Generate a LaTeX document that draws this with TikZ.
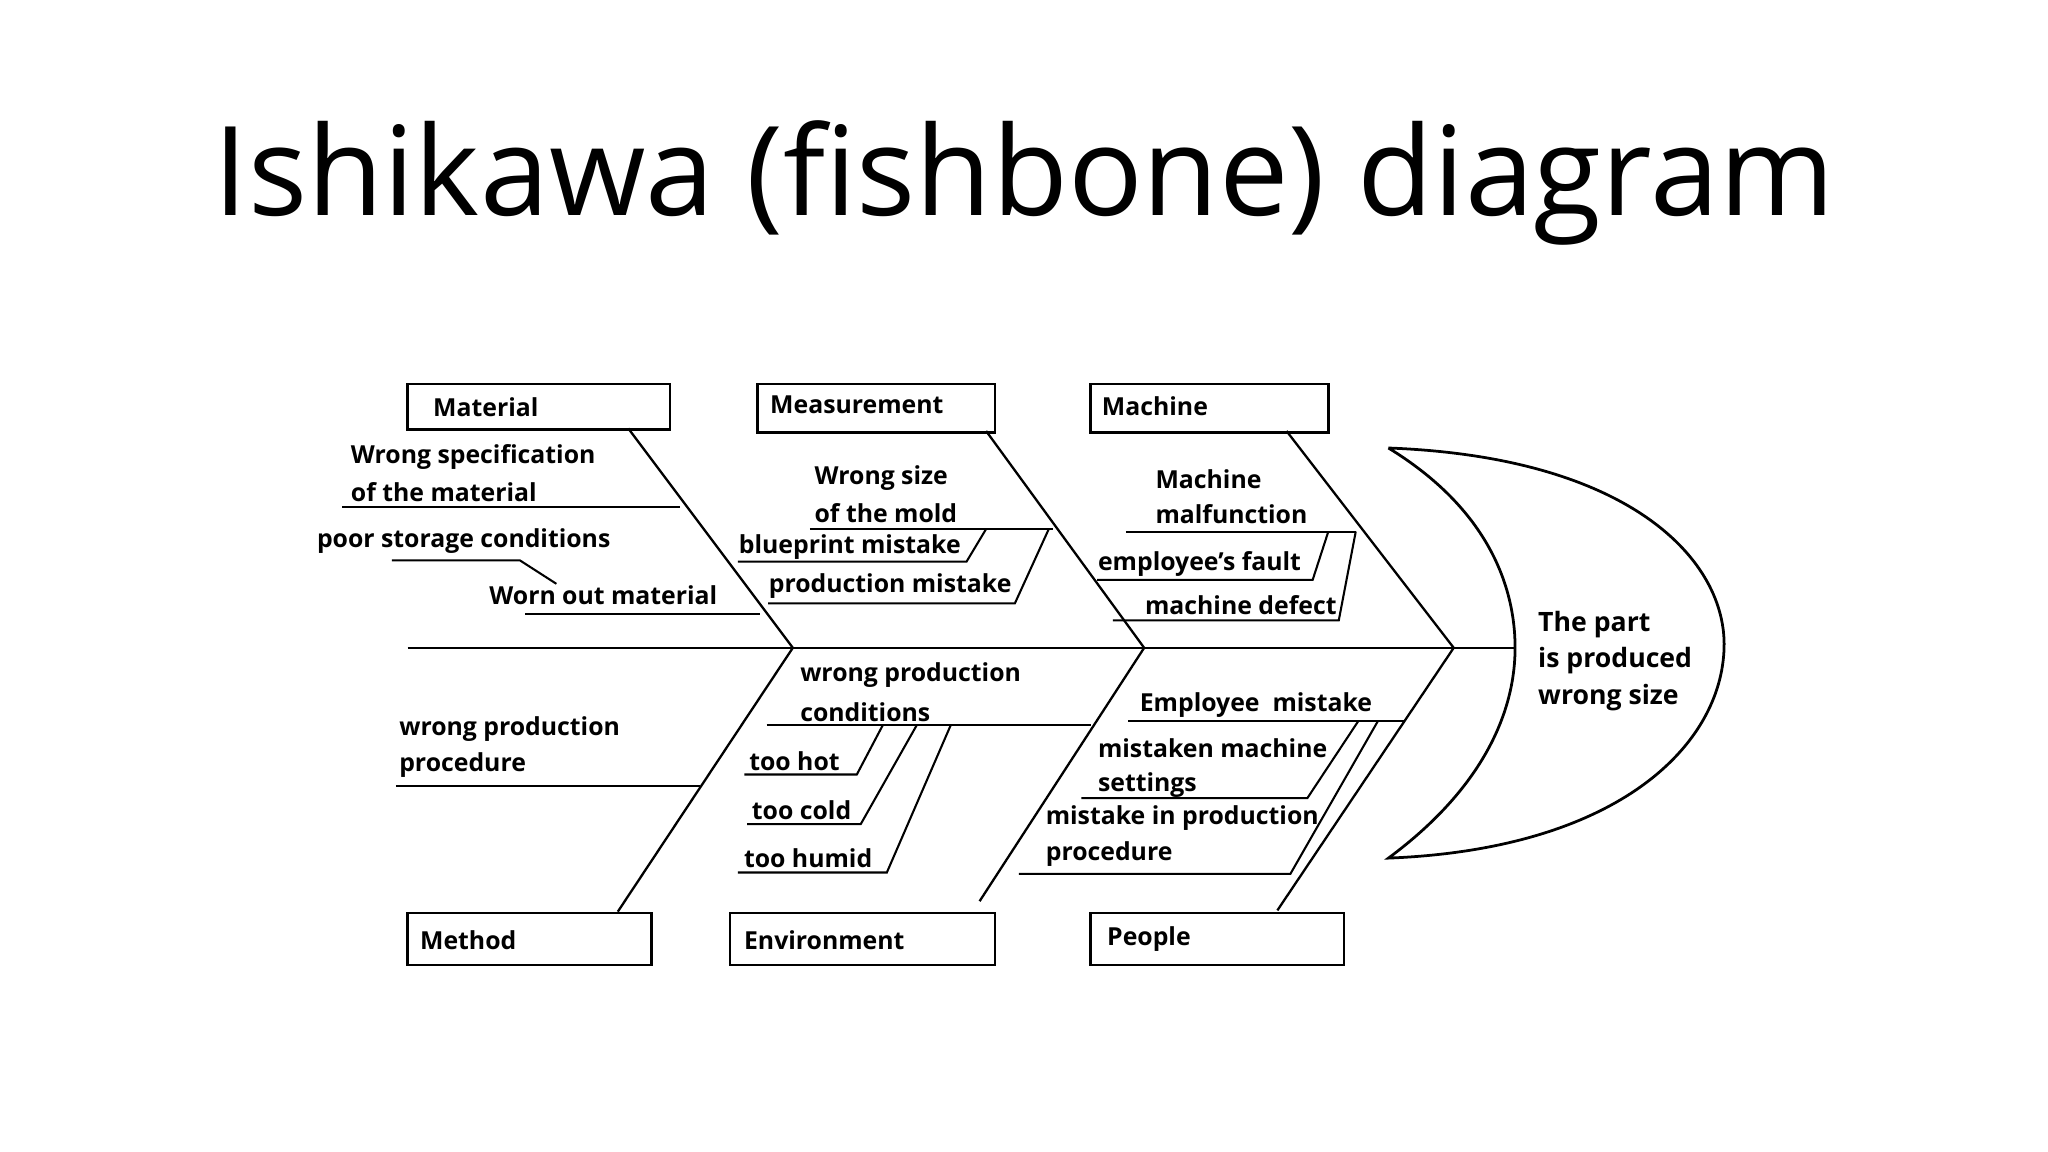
\documentclass[tikz,border=0pt]{standalone}
\usepackage{fontspec}
\setmainfont{Open Sans}
\usetikzlibrary{positioning}
\tikzset{
  bone/.style={black,line width=0.5pt},
  twig/.style={black,line width=0.45pt},
  cat/.style={draw,line width=0.55pt,anchor=north west,minimum height=10.5mm*0.36,inner sep=0pt},
  lbl/.style={anchor=west,inner sep=0pt,font=\fontsize{5.4}{6.6}\selectfont\bfseries,align=left},
}
\begin{document}
\begin{tikzpicture}[x=0.01cm,y=-0.01cm]
\useasboundingbox (0,0) rectangle (1568,882);
\node[font=\fontsize{27}{30}\selectfont] (title) at (784,140) {Ishikawa (fishbone) diagram};

% category boxes
\node[cat,minimum width=201*0.01cm,minimum height=35*0.01cm] (mat) at (311,293) {};
\node[lbl] at (331,312) {Material};
\node[cat,minimum width=182*0.01cm,minimum height=37*0.01cm] (mea) at (579,293) {};
\node[lbl] at (589,310) {Measurement};
\node[cat,minimum width=182*0.01cm,minimum height=37*0.01cm] (mac) at (834,293) {};
\node[lbl] at (843,311) {Machine};
\node[cat,minimum width=187*0.01cm,minimum height=40*0.01cm] (met) at (311,698) {};
\node[lbl] at (321,720) {Method};
\node[cat,minimum width=203*0.01cm,minimum height=40*0.01cm] (env) at (558,698) {};
\node[lbl] at (569,720) {Environment};
\node[cat,minimum width=194*0.01cm,minimum height=40*0.01cm] (peo) at (834,698) {};
\node[lbl] at (847,719) {People};

% spine and head
\coordinate (tail) at (312,496);
\coordinate (j1) at (607,496);
\coordinate (j2) at (876,496);
\coordinate (j3) at (1113,496);
\coordinate (neck) at (1160,496);
\draw[bone] (tail) -- (neck);
\draw[bone,line width=0.6pt] (1063,343) .. controls (1250,350) and (1322,430) .. (1320,496)
  .. controls (1318,570) and (1240,650) .. (1063,657)
  .. controls (1140,600) and (1160,540) .. (neck)
  .. controls (1160,450) and (1140,390) .. (1063,343);
\node[lbl,align=left,font=\fontsize{5.8}{8}\selectfont\bfseries] (eff) at (1177,506) {The part\\is produced\\wrong size};

% main bones
\draw[bone] (481,328) -- (j1);
\draw[bone] (755,330) -- (j2);
\draw[bone] (985,330) -- (j3);
\draw[bone] (473,698) -- (j1);
\draw[bone] (750,690) -- (j2);
\draw[bone] (978,697) -- (j3);

% Material
\node[lbl] at (268,350) {Wrong specification};
\node[lbl] at (268,377) {of the material};
\draw[twig] (262,388) -- (521,388);
\node[lbl] at (242,414) {poor storage conditions};
\draw[twig] (300,429) -- (398,429) -- (426,447);
\node[lbl] at (374,456) {Worn out material};
\draw[twig] (402,470) -- (582,470);

% Measurement
\node[lbl] at (623,366) {Wrong size};
\node[lbl] at (623,393) {of the mold};
\draw[twig] (620,405) -- (806,405);
\node[lbl] at (565,419) {blueprint mistake};
\draw[twig] (565,430) -- (740,430) -- (755,405);
\node[lbl] at (588,449) {production mistake};
\draw[twig] (588,462) -- (777,462) -- (803,405);

% Machine
\node[lbl] at (884,367) {Machine};
\node[lbl] at (884,394) {malfunction};
\draw[twig] (862,407) -- (1038,407);
\node[lbl] at (840,432) {employee's fault};
\draw[twig] (840,444) -- (1005,444) -- (1017,407);
\node[lbl] at (876,463) {machine defect};
\draw[twig] (852,475) -- (1025,475) -- (1038,407);

% Method
\node[lbl] at (305,558) {wrong production};
\node[lbl] at (305,586) {procedure};
\draw[twig] (303,602) -- (536,602);

% Environment
\node[lbl] at (612,517) {wrong production};
\node[lbl] at (612,545) {conditions};
\draw[twig] (587,555) -- (835,555);
\node[lbl] at (573,583) {too hot};
\draw[twig] (570,593) -- (656,593) -- (676,555);
\node[lbl] at (575,620) {too cold};
\draw[twig] (572,631) -- (659,631) -- (702,555);
\node[lbl] at (569,657) {too humid};
\draw[twig] (565,668) -- (679,668) -- (728,555);

% People
\node[lbl] at (872,540) {Employee\ \ mistake};
\draw[twig] (864,552) -- (1075,552);
\node[lbl] at (840,573) {mistaken machine};
\node[lbl] at (840,601) {settings};
\draw[twig] (828,611) -- (1001,611) -- (1040,552);
\node[lbl] at (800,626) {mistake in production};
\node[lbl] at (800,654) {procedure};
\draw[twig] (780,669) -- (988,669) -- (1055,552);
\end{tikzpicture}
\end{document}
